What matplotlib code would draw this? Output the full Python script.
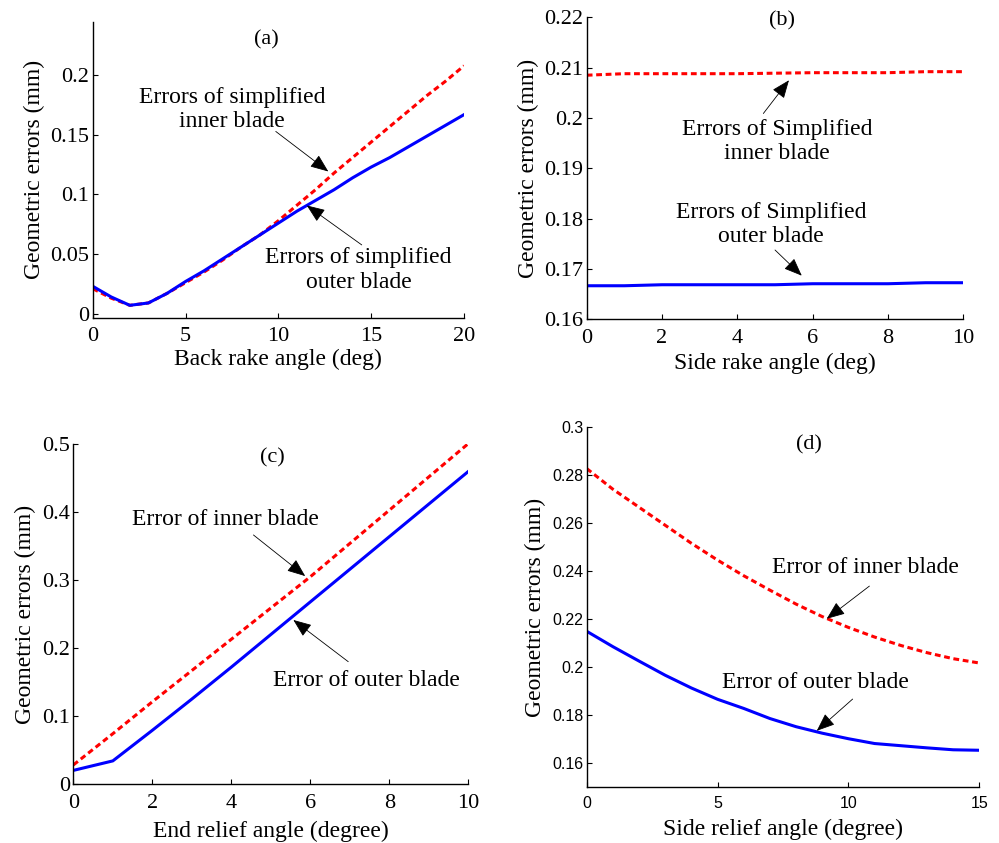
import numpy as np
import matplotlib
matplotlib.use("Agg")
import matplotlib.pyplot as plt

plt.rcParams['font.family'] = ['Liberation Serif', 'DejaVu Serif']
plt.rcParams['mathtext.fontset'] = 'stix'

# (a) back rake angle
back_rake = np.arange(0, 21)
a_inner = [0.021, 0.013, 0.007, 0.009, 0.017, 0.026, 0.035, 0.045, 0.056, 0.066, 0.078,
           0.091, 0.104, 0.118, 0.131, 0.144, 0.157, 0.170, 0.183, 0.195, 0.208]
a_outer = [0.023, 0.014, 0.007, 0.009, 0.017, 0.027, 0.036, 0.046, 0.056, 0.066, 0.076,
           0.086, 0.095, 0.104, 0.114, 0.123, 0.131, 0.140, 0.149, 0.158, 0.167]

# (b) side rake angle
side_rake = np.arange(0, 11)
b_inner = [0.2085, 0.2088, 0.2088, 0.2088, 0.2088, 0.2089, 0.2090, 0.2090, 0.2090, 0.2092, 0.2092]
b_outer = [0.1667, 0.1667, 0.1669, 0.1669, 0.1669, 0.1669, 0.1671, 0.1671, 0.1671, 0.1673, 0.1673]

# (c) end relief angle
end_relief = np.arange(0, 11)
c_inner = [0.028, 0.074, 0.121, 0.167, 0.213, 0.259, 0.305, 0.354, 0.403, 0.452, 0.501]
c_outer = [0.020, 0.034, 0.079, 0.125, 0.172, 0.220, 0.268, 0.316, 0.364, 0.412, 0.460]

# (d) side relief angle
side_relief = np.arange(0, 16)
d_inner = [0.2826, 0.2740, 0.2665, 0.2590, 0.2515, 0.2445, 0.2380, 0.2320, 0.2262, 0.2210,
           0.2165, 0.2125, 0.2090, 0.2060, 0.2035, 0.2017]
d_outer = [0.2149, 0.2085, 0.2025, 0.1966, 0.1913, 0.1866, 0.1828, 0.1786, 0.1752, 0.1725,
           0.1702, 0.1682, 0.1673, 0.1664, 0.1656, 0.1654]

FS = 16    # tick labels / panel tags
LFS = 17   # axis labels and annotations
dash = (0, (1.9, 1.2))
arrow = dict(arrowstyle='-|>,head_length=0.75,head_width=0.3', color='black',
             lw=0.6, mutation_scale=15, shrinkA=0, shrinkB=0)


def style(ax, xlabel, tick_family=None, tick_size=FS, xpad=7, xlabelpad=1):
    ax.spines['top'].set_visible(False)
    ax.spines['right'].set_visible(False)
    for s in ('left', 'bottom'):
        ax.spines[s].set_linewidth(1.0)
    ax.tick_params(direction='in', length=3.5, width=0.8, labelsize=tick_size)
    ax.tick_params(axis='x', pad=xpad)
    ax.tick_params(axis='y', pad=2.5)
    if tick_family:
        for lab in ax.get_xticklabels() + ax.get_yticklabels():
            lab.set_family(tick_family)
    ax.set_xlabel(xlabel, fontsize=LFS, labelpad=xlabelpad)
    ax.set_ylabel('Geometric errors (mm)', fontsize=LFS, labelpad=4)


fig = plt.figure(figsize=(9.99, 8.43), dpi=100)

# panel (a)
ax = fig.add_axes([0.0928, 0.6231, 0.3717, 0.3512])
ax.plot(back_rake, a_inner, color='red', lw=2.2, linestyle=dash)
ax.plot(back_rake, a_outer, color='blue', lw=2.2)
ax.set_xlim(0, 20)
ax.set_ylim(-0.0034, 0.245)
ax.set_xticks([0, 5, 10, 15, 20])
ax.set_yticks([0, 0.05, 0.1, 0.15, 0.2])
ax.set_yticklabels(['0', '0.05', '0.1', '0.15', '0.2'])
style(ax, 'Back rake angle (deg)', xlabelpad=2)
ax.text(0.469, 0.938, '(a)', transform=ax.transAxes, ha='center', va='center', fontsize=FS)
ax.text(7.52, 0.171, 'Errors of simplified\ninner blade', ha='center', va='center', fontsize=LFS)
ax.annotate('', xy=(12.69, 0.1193), xytext=(9.86, 0.1529), arrowprops=arrow)
ax.text(14.31, 0.0367, 'Errors of simplified\nouter blade', ha='center', va='center', fontsize=LFS)
ax.annotate('', xy=(11.53, 0.0908), xytext=(14.49, 0.0577), arrowprops=arrow)

# panel (b)
ax = fig.add_axes([0.5873, 0.6210, 0.3770, 0.3585])
ax.plot(side_rake, b_inner, color='red', lw=2.2, linestyle=dash)
ax.plot(side_rake, b_outer, color='blue', lw=2.2)
ax.set_xlim(0, 10)
ax.set_ylim(0.16, 0.22)
ax.set_xticks(range(0, 11, 2))
ax.set_yticks([0.16, 0.17, 0.18, 0.19, 0.2, 0.21, 0.22])
ax.set_yticklabels(['0.16', '0.17', '0.18', '0.19', '0.2', '0.21', '0.22'])
style(ax, 'Side rake angle (deg)', xlabelpad=3)
ax.text(0.518, 0.989, '(b)', transform=ax.transAxes, ha='center', va='center', fontsize=FS)
ax.text(5.05, 0.1953, 'Errors of Simplified\ninner blade', ha='center', va='center', fontsize=LFS)
ax.annotate('', xy=(5.37, 0.2075), xytext=(4.69, 0.2009), arrowprops=arrow)
ax.text(4.89, 0.1789, 'Errors of Simplified\nouter blade', ha='center', va='center', fontsize=LFS)
ax.annotate('', xy=(5.71, 0.1687), xytext=(5.0, 0.1738), arrowprops=arrow)

# panel (c)
ax = fig.add_axes([0.0734, 0.0700, 0.3954, 0.4030])
ax.plot(end_relief, c_inner, color='red', lw=2.2, linestyle=dash)
ax.plot(end_relief, c_outer, color='blue', lw=2.2)
ax.set_xlim(0, 10)
ax.set_ylim(0, 0.5)
ax.set_xticks(range(0, 11, 2))
ax.set_yticks([0, 0.1, 0.2, 0.3, 0.4, 0.5])
ax.set_yticklabels(['0', '0.1', '0.2', '0.3', '0.4', '0.5'])
style(ax, 'End relief angle (degree)', xlabelpad=6)
ax.text(0.505, 0.959, '(c)', transform=ax.transAxes, ha='center', va='center', fontsize=FS)
ax.text(3.84, 0.3886, 'Error of inner blade', ha='center', va='center', fontsize=LFS)
ax.annotate('', xy=(5.87, 0.306), xytext=(4.56, 0.3665), arrowprops=arrow)
ax.text(7.43, 0.153, 'Error of outer blade', ha='center', va='center', fontsize=LFS)
ax.annotate('', xy=(5.57, 0.2414), xytext=(6.96, 0.180), arrowprops=arrow)

# panel (d)
ax = fig.add_axes([0.5873, 0.0661, 0.3930, 0.4277])
ax.plot(side_relief, d_inner, color='red', lw=2.2, linestyle=dash)
ax.plot(side_relief, d_outer, color='blue', lw=2.2)
ax.set_xlim(0, 15)
ax.set_ylim(0.15, 0.3)
ax.set_xticks([0, 5, 10, 15])
ax.set_yticks([0.16, 0.18, 0.2, 0.22, 0.24, 0.26, 0.28, 0.3])
ax.set_yticklabels(['0.16', '0.18', '0.2', '0.22', '0.24', '0.26', '0.28', '0.3'])
style(ax, 'Side relief angle (degree)', tick_family='Liberation Sans', tick_size=11.5,
      xpad=6, xlabelpad=6)
ax.text(0.566, 0.949, '(d)', transform=ax.transAxes, ha='center', va='center', fontsize=FS)
ax.text(10.63, 0.2416, 'Error of inner blade', ha='center', va='center', fontsize=LFS)
ax.annotate('', xy=(9.17, 0.2201), xytext=(10.8, 0.2337), arrowprops=arrow)
ax.text(8.75, 0.1934, 'Error of outer blade', ha='center', va='center', fontsize=LFS)
ax.annotate('', xy=(8.79, 0.1735), xytext=(10.16, 0.1867), arrowprops=arrow)

fig.savefig('out.png', dpi=100)
